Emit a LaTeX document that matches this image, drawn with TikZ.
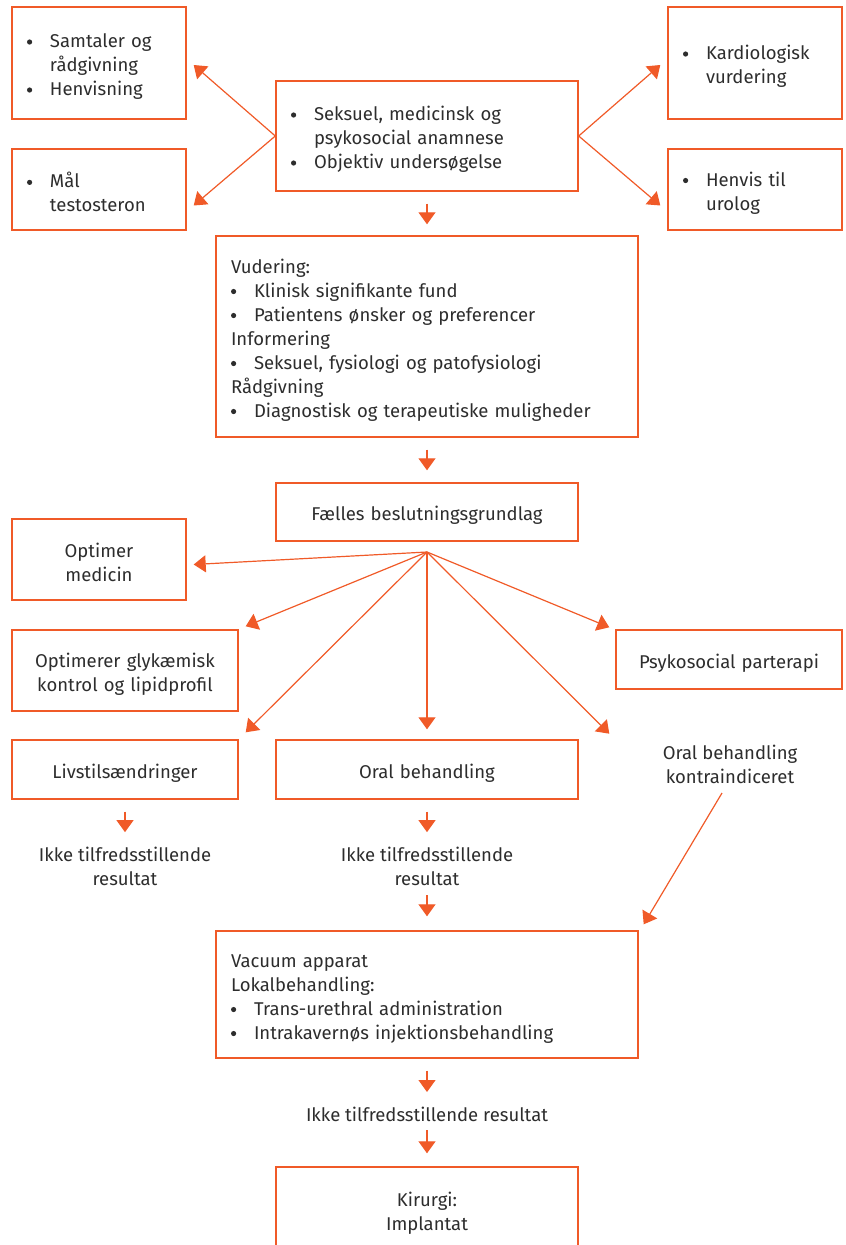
\documentclass[tikz,border=0pt]{standalone}
\usepackage{fontspec}
\setmainfont{Fira Sans}
\usetikzlibrary{arrows.meta,positioning}
\usetikzlibrary{calc}

\definecolor{orng}{RGB}{240,90,40}
\definecolor{txt}{RGB}{45,45,45}
\newcommand{\itm}{\makebox[23pt][l]{\tikz[baseline=-5.5pt]\fill (3pt,0pt) circle[radius=2.6pt];}}
\newcommand{\ind}{\hspace*{23pt}}

\begin{document}
\begin{tikzpicture}[x=1pt,y=-1pt,
        box/.style={draw=orng, line width=1.4pt, text=txt, inner xsep=15pt, inner ysep=0pt,
                    font=\fontsize{18.5}{24}\selectfont, execute at begin node={\rule{0pt}{21pt}}},
        lbox/.style={box, align=left},
        cbox/.style={box, align=center},
        plain/.style={text=txt, align=center, font=\fontsize{18.5}{24}\selectfont},
        arr/.style={draw=orng, line width=1.2pt, -{Triangle[length=12pt,width=17pt]}}]

        \useasboundingbox (0,0) rectangle (846,1245);

        % top row
        \node[lbox, text width=144pt, minimum height=112pt] (talk) at (99,63) {\itm Samtaler og\\\ind rådgivning\\\itm Henvisning};
        \node[lbox, text width=144pt, minimum height=81pt] (testo) at (99,189.5) {\itm Mål\\\ind testosteron};
        \node[lbox, text width=272pt, minimum height=110pt] (anamn) at (427,136) {\itm Seksuel, medicinsk og\\\ind psykosocial anamnese\\\itm Objektiv undersøgelse};
        \node[lbox, text width=144pt, minimum height=112pt] (kardio) at (755,63) {\itm Kardiologisk\\\ind vurdering};
        \node[lbox, text width=144pt, minimum height=81pt] (urolog) at (755,189.5) {\itm Henvis til\\\ind urolog};

        \draw[arr] (anamn.west) -- ($(talk.east)+(7,2)$);
        \draw[arr] (anamn.west) -- ($(testo.east)+(7,16)$);
        \draw[arr] (anamn.east) -- ($(kardio.west)+(-7,2)$);
        \draw[arr] (anamn.east) -- ($(urolog.west)+(-7,16)$);

        % vurdering
        \node[lbox, text width=392pt, minimum height=201pt] (vurd) at (427,336.5) {Vudering:\\\itm Klinisk signifikante fund\\\itm Patientens ønsker og preferencer\\Informering\\\itm Seksuel, fysiologi og patofysiologi\\Rådgivning\\\itm Diagnostisk og terapeutiske muligheder};
        \draw[arr] ([yshift=-12pt]anamn.south) -- ([yshift=11pt]vurd.north);

        \node[cbox, text width=272pt, minimum height=58pt] (faelles) at (427,512) {Fælles beslutningsgrundlag};
        \draw[arr] ([yshift=-12pt]vurd.south) -- ([yshift=12pt]faelles.north);

        % behandlingsmuligheder
        \node[cbox, text width=144pt, minimum height=81pt] (medicin) at (99,559.5) {Optimer\\medicin};
        \node[cbox, text width=196pt, minimum height=81pt] (glyk) at (125,670.5) {Optimerer glykæmisk\\kontrol og lipidprofil};
        \node[cbox, text width=196pt, minimum height=59pt] (parterapi) at (729,659.5) {Psykosocial parterapi};
        \node[cbox, text width=196pt, minimum height=59pt] (livsstil) at (125,769.5) {Livstilsændringer};
        \node[cbox, text width=272pt, minimum height=59pt] (oral) at (427,769.5) {Oral behandling};
        \node[plain] (kontra) at (730,764) {Oral behandling\\kontraindiceret};

        \coordinate (fan) at (427,552);
        \draw[arr] (fan) -- ($(medicin.east)+(7,5)$);
        \draw[arr] (fan) -- ($(glyk.north east)+(7,-3)$);
        \draw[arr] (fan) -- ($(livsstil.north east)+(7,-7)$);
        \draw[arr] (fan) -- ([yshift=10pt]oral.north);
        \draw[arr] (fan) -- ($(parterapi.south west)+(-6,44)$);
        \draw[arr] (fan) -- ($(parterapi.north west)+(-6,-2)$);

        % resultat
        \node[plain] (ikke1) at (125,866) {Ikke tilfredsstillende\\resultat};
        \node[plain] (ikke2) at (427,866) {Ikke tilfredsstillende\\resultat};
        \draw[arr] ([yshift=-12pt]livsstil.south) -- ([yshift=11pt]livsstil.south |- ikke1.north);
        \draw[arr] ([yshift=-12pt]oral.south) -- ([yshift=11pt]oral.south |- ikke2.north);

        \node[lbox, text width=392pt, minimum height=127pt] (vacuum) at (427,994.5) {Vacuum apparat\\Lokalbehandling:\\\itm Trans-urethral administration\\\itm Intrakavernøs injektionsbehandling};
        \draw[arr] ([yshift=-29pt]ikke2.center) -- ([yshift=14pt]vacuum.north);
        \draw[arr] ([xshift=-8pt,yshift=-29pt]kontra.center) -- ([xshift=5pt,yshift=6pt]vacuum.north east);

        \node[plain] (ikke3) at (427,1114) {Ikke tilfredsstillende resultat};
        \draw[arr] ([yshift=-12pt]vacuum.south) -- ([yshift=22pt]ikke3.center);

        \node[cbox, text width=272pt, minimum height=86pt] (kirurgi) at (427,1210) {Kirurgi:\\Implantat};
        \draw[arr] ([yshift=-16pt]ikke3.center) -- ([yshift=13pt]kirurgi.north);

\end{tikzpicture}
\end{document}
